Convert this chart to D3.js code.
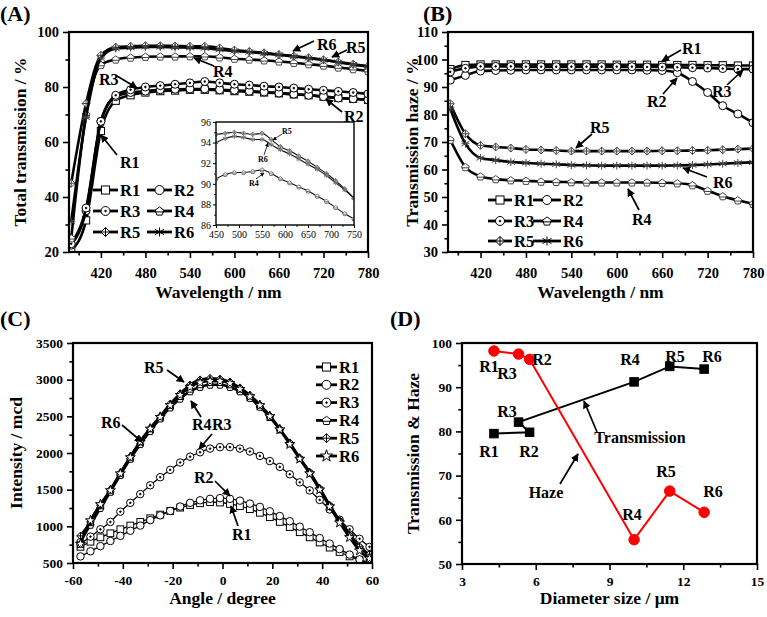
<!DOCTYPE html>
<html>
<head>
<meta charset="utf-8">
<script src="https://cdn.jsdelivr.net/npm/d3@7"></script>
<style>
body { margin:0; background:#fff; }
text { font-family:'Liberation Serif','Times New Roman',serif; font-weight:bold; }
</style>
</head>
<body>
<script>
// ---- data ----
// (A) total transmission, every 20 nm
var wl = [380,400,420,440,460,480,500,520,540,560,580,600,620,640,660,680,700,720,740,760,780];
var totR1 = [20.5,31.5,64,75,77,78,78.5,78.7,79,79,78.8,78.5,78.3,78,77.7,77.3,77,76.5,76,75.7,75.3];
var totR2 = [22.5,35,67.5,76.5,78,78.5,79,79.2,79.3,79.3,79,78.8,78.5,78.2,77.8,77.4,77,76.5,76,75.7,75.3];
var totR3 = [23,36,67.5,77,79,80,80.5,81,81.5,82,81.5,81,80.7,80.3,80,79.6,79.2,78.8,78.4,78,77.5];
var totR4 = [25,70,88,90,90.7,91,91.1,91.1,91.2,91.2,90.8,90.3,90,89.7,89.3,88.8,88.3,87.8,87.1,86.5,85.8];
var totR5 = [45,74,91.5,94.5,94.8,95,95,94.9,94.8,94.8,94.2,93.4,92.9,92.4,91.8,91.2,90.6,89.9,89.1,88.3,87.5];
var totR6 = [31,69,90.5,94,94.3,94.6,94.6,94.4,94.3,94.1,93.6,93.1,92.7,92.2,91.7,91.1,90.5,89.8,89,88.2,87.4];

// inset of (A)
var insWl = [450,470,490,510,530,550,570,590,610,630,650,670,690,710,730,750];
var insR4 = [90.5,90.9,91.1,91.1,91.2,91.35,91,90.5,90.1,89.7,89.3,88.8,88.3,87.7,87.1,86.6];
var insR5 = [94.8,94.9,95,94.9,94.8,94.9,94.3,93.6,93.2,92.7,92.2,91.6,91,90.3,89.5,88.6];
var insR6 = [94,94.4,94.6,94.5,94.3,94.3,93.8,93.3,92.9,92.4,91.9,91.4,90.8,90.1,89.4,88.6];

// (B) transmission haze
var hzR1 = [96.5,98,98.2,98.2,98.2,98.2,98.2,98.2,98.2,98.2,98.2,98.1,98.1,98.1,98,98,98,97.9,97.9,97.8,97.8];
var hzR2 = [92.5,94.2,95.8,96,96.1,96.2,96.2,96.2,96.2,96.2,96.2,96.2,96.2,96.1,96,95.2,92,88,83.2,80.2,77];
var hzR3 = [95.5,96.8,97.5,97.5,97.5,97.4,97.4,97.4,97.4,97.4,97.4,97.4,97.4,97.3,97.3,97.2,97,96.9,96.7,96.5,96.5];
var hzR4 = [70.8,60.9,57.5,56.5,56.1,55.9,55.6,55.5,55.4,55.3,55.3,55.3,55.3,55.3,55.2,55,54.3,52.3,50.3,48.8,47.5];
var hzR5 = [83.9,73,68.8,68.2,67.8,67.3,67.1,66.9,66.7,66.7,66.7,66.7,66.7,66.7,66.8,66.8,66.9,67,67.2,67.4,67.6];
var hzR6 = [82,69.4,64.2,63.4,62.7,62.4,62.1,61.9,61.6,61.5,61.4,61.4,61.4,61.4,61.4,61.5,61.6,61.8,62.1,62.4,62.6];

// (C) angular intensity
var ang = [-57,-53,-49,-45,-41,-37,-33,-29,-25,-21,-17,-13,-9,-5,-1,3,7,11,15,19,23,27,31,35,39,43,47,51,55,59];
var intR1 = [720,790,850,905,960,1010,1060,1110,1160,1210,1255,1290,1315,1330,1325,1305,1275,1235,1185,1125,1060,990,920,850,780,710,650,590,540,500];
var intR2 = [590,660,730,800,870,940,1010,1085,1150,1210,1270,1320,1355,1375,1385,1375,1350,1310,1265,1205,1140,1070,995,920,840,765,690,615,550,500];
var intR3 = [760,860,960,1060,1200,1320,1440,1560,1670,1770,1870,1950,2010,2060,2080,2080,2060,2020,1960,1890,1810,1710,1600,1490,1360,1230,1090,960,830,720];
var intR4 = [800,1020,1250,1470,1700,1920,2120,2300,2470,2620,2740,2840,2900,2930,2930,2900,2840,2750,2630,2490,2320,2130,1930,1740,1520,1290,1080,900,720,600];
var intR5 = [870,1060,1290,1500,1730,1950,2160,2340,2500,2670,2810,2930,3000,3020,3010,2970,2890,2790,2660,2510,2330,2140,1930,1730,1510,1280,1070,880,720,620];
var intR6 = [760,1080,1300,1490,1720,1940,2150,2330,2490,2650,2790,2900,2960,2980,2980,2950,2870,2770,2650,2500,2320,2120,1920,1720,1500,1270,1050,850,670,560];

// (D) versus diameter, samples R1..R6
var samples = ["R1","R2","R3","R4","R5","R6"];
var diam = [4.3,5.75,5.3,10,11.45,12.85];
var transD = [79.5,79.8,82.1,91.2,94.7,94.1];
var hazeD = [98.2,96.3,97.5,55.5,66.5,61.7];

var markA = ["sq","ci","dc","pe","di","as"];
var markC = ["sq","ci","dc","pe","di","st"];

var svg = d3.select("body").append("svg").attr("width",767).attr("height",617);

var defs = svg.append("defs");
defs.append("marker").attr("id","arr").attr("viewBox","0 0 10 10")
  .attr("refX",9).attr("refY",5).attr("markerWidth",8).attr("markerHeight",8)
  .attr("markerUnits","userSpaceOnUse").attr("orient","auto")
  .append("path").attr("d","M0,0L10,5L0,10Z").attr("fill","#000");
defs.append("marker").attr("id","arrs").attr("viewBox","0 0 10 10")
  .attr("refX",9).attr("refY",5).attr("markerWidth",4).attr("markerHeight",4)
  .attr("markerUnits","userSpaceOnUse").attr("orient","auto")
  .append("path").attr("d","M0,0L10,5L0,10Z").attr("fill","#000");

var clipN = 0;
var fmt = function(d) { return String(d); };   // plain hyphen for negatives

// one framed plot with outward ticks on bottom and left
function panel(o) {
  var x = d3.scaleLinear().domain(o.xd).range([o.l, o.r]);
  var y = d3.scaleLinear().domain(o.yd).range([o.b, o.t]);
  var g = svg.append("g");
  var id = "clip" + (clipN++);
  defs.append("clipPath").attr("id", id).append("rect")
    .attr("x", o.l).attr("y", o.t).attr("width", o.r - o.l).attr("height", o.b - o.t);
  var fs = o.fs || 14.5;
  var tw = o.tw || 1.6;
  var tl = o.tl || 6;

  if (o.bg) g.append("rect").attr("x", o.l).attr("y", o.t).attr("width", o.r - o.l).attr("height", o.b - o.t).attr("fill", "#fff");
  var gx = g.append("g").attr("transform", "translate(0," + o.b + ")");
  gx.append("g").call(d3.axisBottom(x).tickValues(o.xMinor).tickSize(tl*0.6).tickFormat(""));
  gx.append("g").call(d3.axisBottom(x).tickValues(o.xMajor).tickSize(tl).tickPadding(o.xpad || 5).tickFormat(fmt));
  var gy = g.append("g").attr("transform", "translate(" + o.l + ",0)");
  gy.append("g").call(d3.axisLeft(y).tickValues(o.yMinor).tickSize(tl*0.6).tickFormat(""));
  gy.append("g").call(d3.axisLeft(y).tickValues(o.yMajor).tickSize(tl).tickPadding(o.ypad || 4).tickFormat(fmt));
  g.selectAll(".domain").remove();
  g.selectAll(".tick line").attr("stroke", "#000").attr("stroke-width", tw);
  g.selectAll(".tick text").attr("font-size", fs).attr("fill", "#000")
    .style("font-family", "'Liberation Serif',serif").style("font-weight", o.bold === false ? "normal" : "bold");

  var plot = g.append("g").attr("clip-path", "url(#" + id + ")");
  var over = g.append("g");
  over.append("rect").attr("x", o.l).attr("y", o.t).attr("width", o.r - o.l).attr("height", o.b - o.t)
    .attr("fill", "none").attr("stroke", "#000").attr("stroke-width", o.fw || 2.2);

  if (o.xTitle) g.append("text").attr("x", (o.l + o.r) / 2).attr("y", o.xty)
    .attr("text-anchor", "middle").attr("font-size", o.tfs || 17.5).text(o.xTitle);
  if (o.yTitle) g.append("text").attr("transform", "translate(" + o.ytx + "," + (o.t + o.b) / 2 + ") rotate(-90)")
    .attr("text-anchor", "middle").attr("font-size", o.tfs || 17.5).text(o.yTitle);
  return {x: x, y: y, plot: plot, g: g};
}

function pentagon(h) {
  var pts = [];
  for (var i = 0; i < 5; i++) {
    var a = -Math.PI / 2 + i * 2 * Math.PI / 5;
    pts.push([h * Math.cos(a), h * Math.sin(a) + h * 0.1]);
  }
  return "M" + pts.join("L") + "Z";
}

function marker(g, type, cx, cy, s, col) {
  var h = s / 2;
  var m = g.append("g").attr("transform", "translate(" + cx + "," + cy + ")")
    .attr("stroke", col).attr("stroke-width", 1).attr("fill", "#fff");
  if (type == "sq") m.append("rect").attr("x", -h * 0.9).attr("y", -h * 0.9).attr("width", s * 0.9).attr("height", s * 0.9);
  else if (type == "ci") m.append("circle").attr("r", h);
  else if (type == "dc") { m.append("circle").attr("r", h); m.append("circle").attr("r", 0.8).attr("fill", col); }
  else if (type == "pe") { m.append("path").attr("d", pentagon(h)); m.append("line").attr("x1", -h).attr("x2", h).attr("y1", h*0.2).attr("y2", h*0.2); }
  else if (type == "di") { m.append("path").attr("d", "M0," + (-h) + "L" + h + ",0L0," + h + "L" + (-h) + ",0Z");
    m.append("path").attr("d", "M" + (-h) + ",0H" + h + "M0," + (-h) + "V" + h).attr("fill", "none"); }
  else if (type == "as") m.append("path").attr("fill", "none")
    .attr("d", "M" + (-h) + "," + (-h * 0.6) + "L" + h + "," + (h * 0.6) + "M" + (-h) + "," + (h * 0.6) + "L" + h + "," + (-h * 0.6) + "M0," + (-h) + "V" + h + "M" + (-h) + ",0H" + h);
  else if (type == "st") m.append("path").attr("d", d3.symbol(d3.symbolStar, s * s * 0.55)());
  else if (type == "fsq") m.attr("fill", col).append("rect").attr("x", -h).attr("y", -h).attr("width", s).attr("height", s);
  else if (type == "fci") m.attr("fill", col).append("circle").attr("r", h);
}

function series(p, xs, ys, type, opt) {
  var line = d3.line().x(function(d, i) { return p.x(xs[i]); }).y(function(d) { return p.y(d); })
    .curve(opt.curve || d3.curveMonotoneX);
  p.plot.append("path").attr("d", line(ys)).attr("fill", "none")
    .attr("stroke", opt.lc || "#000").attr("stroke-width", opt.lw || 2.6);
  ys.forEach(function(v, i) { marker(p.plot, type, p.x(xs[i]), p.y(v), opt.ms || 8, opt.mc || "#000"); });
}

function label(t, x, y, fs, anchor) {
  return svg.append("text").attr("x", x).attr("y", y).attr("font-size", fs || 16)
    .attr("text-anchor", anchor || "start").text(t);
}
function arrow(x1, y1, x2, y2, small) {
  svg.append("line").attr("x1", x1).attr("y1", y1).attr("x2", x2).attr("y2", y2)
    .attr("stroke", "#000").attr("stroke-width", small ? 0.8 : 1.7).attr("marker-end", small ? "url(#arrs)" : "url(#arr)");
}
function legendRow(x, y, type, name, len) {
  svg.append("line").attr("x1", x).attr("x2", x + len).attr("y1", y).attr("y2", y)
    .attr("stroke", "#000").attr("stroke-width", 2.8);
  marker(svg, type, x + len / 2, y, 9, "#000");
  label(name, x + len + 2, y + 5.5, 16.5);
}

// ---------- (A) ----------
var pA = panel({l: 69, r: 368, t: 32, b: 252, xd: [377, 780], yd: [20, 100],
  xMajor: [420,480,540,600,660,720,780], xMinor: [390,450,510,570,630,690,750],
  yMajor: [20,40,60,80,100], yMinor: [30,50,70,90],
  xTitle: "Wavelength / nm", xty: 298, yTitle: "Total transmission / %", ytx: 26, xpad: 10});
var totAll = [totR1, totR2, totR3, totR4, totR5, totR6];
totAll.forEach(function(s, k) { series(pA, wl, s, markA[k], {ms: 8, mc: k < 3 ? "#000" : "#444"}); });

// inset
var pI = panel({l: 216, r: 354, t: 122, b: 225, xd: [450, 750], yd: [86, 96],
  xMajor: [450,500,550,600,650,700,750], xMinor: [475,525,575,625,675,725],
  yMajor: [86,88,90,92,94,96], yMinor: [87,89,91,93,95],
  fs: 10, bold: false, tl: 3, tw: 1, fw: 1.4, xpad: 3, ypad: 2, bg: true});
[insR4, insR5, insR6].forEach(function(s, k) {
  series(pI, insWl, s, ["pe","di","as"][k], {lw: 1.1, ms: 4.5, mc: "#777", lc: "#111"});
});

legendRow(93, 190, "sq", "R1", 25);
legendRow(147, 190, "ci", "R2", 25);
legendRow(93, 211, "dc", "R3", 25);
legendRow(147, 211, "pe", "R4", 25);
legendRow(93, 232, "di", "R5", 25);
legendRow(147, 232, "as", "R6", 25);

label("R6", 317, 50); arrow(314, 41, 293, 51);
label("R5", 346, 53); arrow(347, 50, 332, 57);
label("R4", 213, 77); arrow(214, 66, 194, 58);
label("R3", 99, 85); arrow(117, 76, 137, 88);
label("R2", 344, 122); arrow(342, 112, 326, 99);
label("R1", 120, 168); arrow(117, 155, 101, 135);
label("R5", 282, 134, 8); arrow(282, 134, 273, 140, true);
label("R6", 258, 162, 8); arrow(264, 155, 268, 143, true);
label("R4", 249, 186, 8); arrow(256, 179, 264, 173, true);

// ---------- (B) ----------
var pB = panel({l: 448, r: 753, t: 32, b: 252, xd: [377, 780], yd: [30, 110],
  xMajor: [420,480,540,600,660,720,780], xMinor: [390,450,510,570,630,690,750],
  yMajor: [30,40,50,60,70,80,90,100,110], yMinor: [35,45,55,65,75,85,95,105],
  xTitle: "Wavelength / nm", xty: 298, yTitle: "Transmission haze / %", ytx: 418, xpad: 10});
[hzR1, hzR2, hzR3, hzR4, hzR5, hzR6].forEach(function(s, k) { series(pB, wl, s, markA[k], {ms: 8, mc: k < 3 ? "#000" : "#444"}); });

legendRow(488, 200, "sq", "R1", 24);
legendRow(533, 200, "ci", "R2", 28);
legendRow(488, 221, "dc", "R3", 24);
legendRow(533, 221, "pe", "R4", 28);
legendRow(488, 241, "di", "R5", 24);
legendRow(533, 241, "as", "R6", 28);

label("R1", 682, 54); arrow(681, 50, 662, 61);
label("R2", 647, 107); arrow(663, 94, 677, 78);
label("R3", 712, 97); arrow(727, 85, 743, 70);
label("R5", 590, 133); arrow(592, 134, 576, 148);
label("R6", 713, 188); arrow(707, 177, 683, 168);
label("R4", 632, 225); arrow(639, 210, 628, 189);

// ---------- (C) ----------
var pC = panel({l: 73, r: 372, t: 343, b: 563, xd: [-60, 60], yd: [500, 3500],
  xMajor: [-60,-40,-20,0,20,40,60], xMinor: [-50,-30,-10,10,30,50],
  yMajor: [500,1000,1500,2000,2500,3000,3500], yMinor: [750,1250,1750,2250,2750,3250],
  xTitle: "Angle / degree", xty: 604, yTitle: "Intensity / mcd", ytx: 22, xpad: 6, fs: 13.5});
[intR1, intR2, intR3, intR4, intR5, intR6].forEach(function(s, k) {
  series(pC, ang, s, markC[k], {ms: 7.5, lw: k < 3 ? 1.3 : 2.6, mc: "#000"});
});
markC.forEach(function(t, k) { legendRow(316, 367 + k * 17.8, t, "R" + (k + 1), 21); });

label("R5", 144, 373); arrow(167, 370, 184, 382);
label("R6", 101, 428); arrow(122, 425, 142, 442);
label("R4", 192, 430); arrow(201, 417, 191, 401);
label("R3", 212, 430); arrow(212, 434, 199, 449);
label("R2", 194, 483); arrow(215, 481, 230, 496);
label("R1", 232, 540); arrow(238, 526, 231, 506);

// ---------- (D) ----------
var pD = panel({l: 462, r: 757, t: 343, b: 564, xd: [3, 15], yd: [50, 100],
  xMajor: [3,6,9,12,15], xMinor: [4.5,7.5,10.5,13.5],
  yMajor: [50,60,70,80,90,100], yMinor: [55,65,75,85,95],
  xTitle: "Diameter size / \u03bcm", xty: 604, yTitle: "Transmission & Haze", ytx: 419, xpad: 6, fs: 13.5});
series(pD, diam, transD, "fsq", {curve: d3.curveLinear, lw: 2, ms: 8.5, mc: "#000"});
var hOrder = d3.range(diam.length).sort(function(a, b) { return diam[a] - diam[b]; });
series(pD, hOrder.map(function(i) { return diam[i]; }), hOrder.map(function(i) { return hazeD[i]; }), "fci",
  {curve: d3.curveLinear, lw: 2, ms: 10.5, mc: "#f00", lc: "#f00"});

var lblTop = [[489,372],[542,365],[507,379],[630,365],[675,362],[712,362]];
var lblLow = [[489,457],[529,457],[507,417],null,null,null];
var lblHaze = [null,null,null,[632,520],[666,477],[713,497]];
samples.forEach(function(n, i) {
  [lblTop, lblLow, lblHaze].forEach(function(arr) { if (arr[i]) label(n, arr[i][0], arr[i][1], 16, "middle"); });
});
label("Transmission", 640, 443, 16, "middle"); arrow(597, 432, 584, 401);
label("Haze", 546, 498, 16, "middle"); arrow(560, 484, 578, 454);

// panel letters
label("(A)", 0, 21, 22); label("(B)", 423, 21, 22);
label("(C)", 0, 326, 22); label("(D)", 390, 326, 22);
</script>
</body>
</html>
